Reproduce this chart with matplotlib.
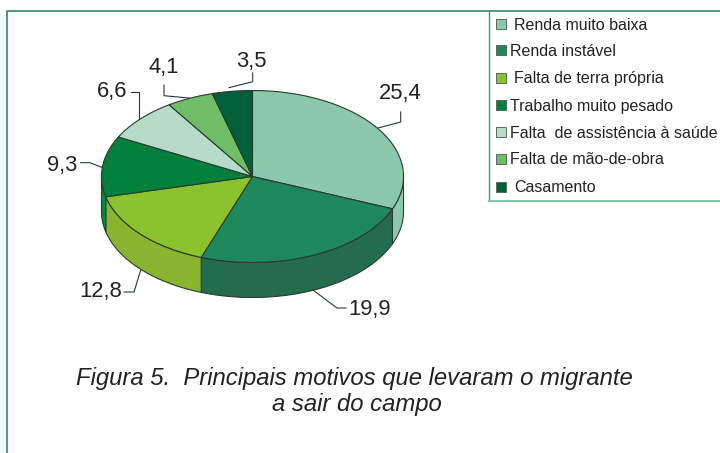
import numpy as np
import matplotlib
matplotlib.use('Agg')
import matplotlib.pyplot as plt
from matplotlib.patches import Polygon, Rectangle

plt.rcParams['font.family'] = ['Liberation Sans', 'DejaVu Sans']

motivos = ['Renda muito baixa', 'Renda instável', 'Falta de terra própria',
           'Trabalho muito pesado', 'Falta  de assistência à saúde',
           'Falta de mão-de-obra', 'Casamento']
valores = [25.4, 19.9, 12.8, 9.3, 6.6, 4.1, 3.5]
rotulos = ['25,4', '19,9', '12,8', '9,3', '6,6', '4,1', '3,5']

cores = ['#8cc9ab', '#1f885a', '#8bc22d', '#00803a', '#b6dcc8', '#6fbd66', '#00603a']
cores_lado = ['#8cc9ab', '#236d4c', '#8ab32f', '#008a3e', '#b6dcc8', '#6fbd66', '#00603a']

verde = '#2e8b62'
escuro = '#2b3a30'
cx, cy, rx, ry, prof = 252.5, 176.5, 151, 86, 35

fig = plt.figure(figsize=(7.2, 4.53), dpi=100)
ax = fig.add_axes([0, 0, 1, 1])
ax.set_xlim(0, 720)
ax.set_ylim(453, 0)
ax.axis('off')

# moldura
ax.plot([6.5, 6.5, 720], [453, 10.5, 10.5], color=verde, lw=1.2)
ax.plot([489, 489], [10.5, 200.5], color='#3f9a72', lw=1.0)
ax.plot([489, 720], [200.5, 200.5], color='#6fc09a', lw=1.2)


def ponto(t):
    # angulo no sentido horario a partir do topo
    return cx + rx * np.sin(t), cy - ry * np.cos(t)


lim = np.cumsum([0] + valores) / sum(valores) * 2 * np.pi

# lateral (so a metade da frente aparece)
for i in range(len(valores)):
    a, b = max(lim[i], np.pi / 2), min(lim[i + 1], 3 * np.pi / 2)
    if a >= b:
        continue
    t = np.linspace(a, b, 80)
    x, y = ponto(t)
    xy = np.r_[np.c_[x, y], np.c_[x[::-1], y[::-1] + prof]]
    ax.add_patch(Polygon(xy, fc=cores_lado[i], ec=escuro, lw=0.8, joinstyle='round'))

# topo
for i in range(len(valores)):
    t = np.linspace(lim[i], lim[i + 1], 80)
    x, y = ponto(t)
    xy = np.r_[[[cx, cy]], np.c_[x, y]]
    ax.add_patch(Polygon(xy, fc=cores[i], ec=escuro, lw=0.8, joinstyle='round'))

# rotulos e linhas de chamada
pos_rotulo = [(400.5, 93), (370, 309), (100.5, 292), (62, 165), (112, 92), (164, 67), (251, 61)]
chamadas = [
    [(400.7, 112), (400.7, 122), (378, 128)],
    [(313, 290), (337, 308), (346, 308)],
    [(140.7, 270), (134, 292), (124, 292)],
    [(80.7, 162.7), (90, 162.7), (102.7, 167.7)],
    [(130.7, 91.7), (139, 91.7), (139, 118)],
    [(164, 85), (164, 95.7), (189, 98)],
    [(252.7, 73), (252.7, 81.7), (229, 87.7)],
]
for rot, p, c in zip(rotulos, pos_rotulo, chamadas):
    ax.text(p[0], p[1], rot, fontsize=15.8, color='#222222', ha='center', va='center')
    c = np.array(c)
    ax.plot(c[:, 0], c[:, 1], color=escuro, lw=0.8)

# legenda
leg_y = [25, 51, 79, 106, 133, 160, 188]
leg_x = [514, 510, 514, 510, 510, 510, 514]
for m, c, y, x in zip(motivos, cores, leg_y, leg_x):
    ax.add_patch(Rectangle((496, y - 6), 10, 10, fc=c, ec='#556b5e', lw=0.7))
    ax.text(x, y, m, fontsize=11.5, color='#222222', ha='left', va='center')

ax.text(354, 379, 'Figura 5.  Principais motivos que levaram o migrante', fontsize=17.2,
        style='italic', color='#222222', ha='center', va='center')
ax.text(357, 404, 'a sair do campo', fontsize=17.2, style='italic', color='#222222',
        ha='center', va='center')

fig.savefig('out.png', dpi=100)
